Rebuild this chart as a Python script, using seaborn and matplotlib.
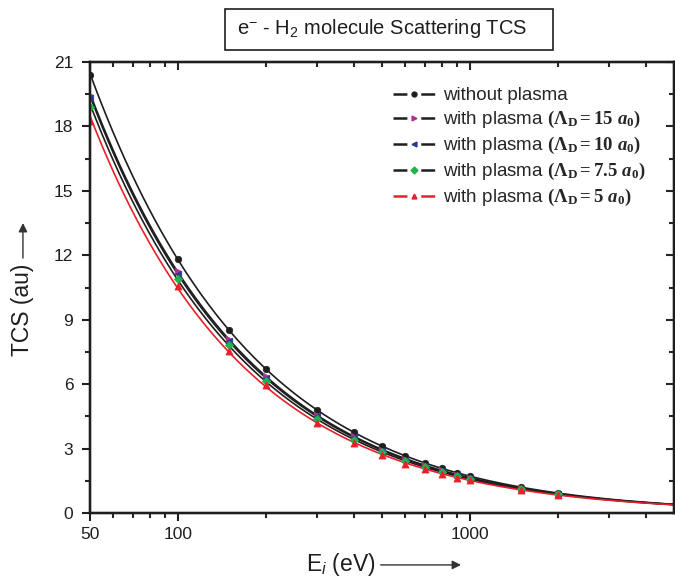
import numpy as np
import pandas as pd
import matplotlib
matplotlib.use("Agg")
import matplotlib.pyplot as plt
import seaborn as sns
from matplotlib.lines import Line2D
from matplotlib.patches import Rectangle
from matplotlib.ticker import FixedLocator, NullFormatter, FixedFormatter

# ---------------- data ----------------
energy = [50, 100, 150, 200, 300, 400, 500, 600, 700, 800, 900, 1000, 1500, 2000]
tcs_no_plasma = [20.40, 11.85, 8.52, 6.70, 4.80, 3.77, 3.10, 2.65, 2.33, 2.08, 1.88, 1.72, 1.20, 0.93]
tcs_ld15 = [19.45, 11.25, 8.10, 6.38, 4.56, 3.58, 2.95, 2.52, 2.22, 1.98, 1.79, 1.64, 1.15, 0.90]
tcs_ld10 = [19.32, 11.15, 8.02, 6.30, 4.50, 3.53, 2.91, 2.49, 2.19, 1.95, 1.77, 1.62, 1.14, 0.89]
tcs_ld75 = [18.92, 10.90, 7.82, 6.14, 4.38, 3.42, 2.84, 2.41, 2.13, 1.90, 1.72, 1.58, 1.11, 0.87]
tcs_ld5 = [18.25, 10.55, 7.55, 5.96, 4.20, 3.28, 2.72, 2.30, 2.05, 1.83, 1.65, 1.52, 1.07, 0.85]

series_labels = [
    "without plasma",
    r"with plasma $(\Lambda_{\mathrm{D}} = 15\ a_{0})$",
    r"with plasma $(\Lambda_{\mathrm{D}} = 10\ a_{0})$",
    r"with plasma $(\Lambda_{\mathrm{D}} = 7.5\ a_{0})$",
    r"with plasma $(\Lambda_{\mathrm{D}} = 5\ a_{0})$",
]
series_values = [tcs_no_plasma, tcs_ld15, tcs_ld10, tcs_ld75, tcs_ld5]

x_major_ticks = [50, 100, 1000]
x_major_labels = ["50", "100", "1000"]
x_minor_ticks = [60, 70, 80, 90, 200, 300, 400, 500, 600, 700, 800, 900, 2000, 3000, 4000]
y_major_ticks = [0, 3, 6, 9, 12, 15, 18, 21]
y_minor_ticks = [1.5, 4.5, 7.5, 10.5, 13.5, 16.5, 19.5]
x_range = (50, 5000)
y_range = (0, 21)

title_text = r"e$^{\mathsf{-}}$ - H$_{\mathsf{2}}$ molecule Scattering TCS"
xlabel_text = r"E$_{\mathcal{i}}$ (eV)"
ylabel_text = "TCS (au)"

# ---------------- styles ----------------
line_colors = ["#1e1e1e", "#1e1e1e", "#1e1e1e", "#1e1e1e", "#e8202a"]
marker_colors = ["#1e1e1e", "#b0308f", "#2b3990", "#22b24c", "#e8202a"]
marker_shapes = ["o", ">", "<", "D", "^"]
marker_sizes = [22, 22, 22, 18, 26]

sns.set_theme(style="ticks")
plt.rcParams.update({
    "font.family": ["Liberation Sans", "DejaVu Sans"],
    "mathtext.fontset": "custom",
    "mathtext.rm": "Liberation Serif:bold",
    "mathtext.bf": "Liberation Serif:bold",
    "mathtext.it": "Liberation Serif:italic:bold",
    "mathtext.sf": "Liberation Sans",
    "mathtext.cal": "Liberation Sans:italic",
    "lines.scale_dashes": False,
    "axes.linewidth": 1.6,
})

df = pd.DataFrame({
    "energy": np.tile(energy, len(series_labels)),
    "tcs": np.concatenate(series_values),
    "series": np.repeat(series_labels, len(energy)),
})

fig = plt.figure(figsize=(6.75, 5.8), dpi=100)
ax = fig.add_axes([0.1333, 0.1155, 0.8652, 0.7776])
ax.set_xscale("log")

# smooth fitted curves (log-log quadratic fit of each series)
curve_frames = []
xs = np.geomspace(x_range[0], x_range[1], 300)
for lab, vals in zip(series_labels, series_values):
    coef = np.polyfit(np.log(energy), np.log(vals), 2)
    curve_frames.append(pd.DataFrame({"energy": xs,
                                      "tcs": np.exp(np.polyval(coef, np.log(xs))),
                                      "series": lab}))
curves = pd.concat(curve_frames, ignore_index=True)

for lab, lc in zip(series_labels, line_colors):
    sns.lineplot(data=curves[curves.series == lab], x="energy", y="tcs",
                 color=lc, lw=1.2, ax=ax, legend=False, sort=False, estimator=None)

for lab, mc, ms, sz in zip(series_labels, marker_colors, marker_shapes, marker_sizes):
    sns.scatterplot(data=df[df.series == lab], x="energy", y="tcs", color=mc,
                    marker=ms, s=sz, edgecolor=mc, linewidth=0.5, ax=ax,
                    legend=False, zorder=5)

ax.set_xlim(*x_range)
ax.set_ylim(*y_range)
ax.xaxis.set_major_locator(FixedLocator(x_major_ticks))
ax.xaxis.set_major_formatter(FixedFormatter(x_major_labels))
ax.xaxis.set_minor_locator(FixedLocator(x_minor_ticks))
ax.xaxis.set_minor_formatter(NullFormatter())
ax.yaxis.set_major_locator(FixedLocator(y_major_ticks))
ax.yaxis.set_minor_locator(FixedLocator(y_minor_ticks))
ax.set_xlabel("")
ax.set_ylabel("")
ax.tick_params(which="major", direction="out", length=6, width=1.5, labelsize=12.5, pad=6, colors="#1e1e1e")
ax.tick_params(axis="x", which="major", pad=4)
ax.tick_params(which="minor", direction="out", length=3.5, width=1.5)
for sp in ax.spines.values():
    sp.set_visible(True)
    sp.set_linewidth(1.6)
    sp.set_color("#1e1e1e")

# mirrored inward ticks on top and right
axt = ax.twiny()
axt.set_xscale("log")
axt.set_xlim(*x_range)
axt.xaxis.set_major_locator(FixedLocator(x_major_ticks))
axt.xaxis.set_minor_locator(FixedLocator(x_minor_ticks))
axt.xaxis.set_major_formatter(NullFormatter())
axt.xaxis.set_minor_formatter(NullFormatter())
axt.tick_params(which="major", direction="in", length=6, width=1.5)
axt.tick_params(which="minor", direction="in", length=3.5, width=1.5)
axr = ax.twinx()
axr.set_ylim(*y_range)
axr.yaxis.set_major_locator(FixedLocator(y_major_ticks))
axr.yaxis.set_minor_locator(FixedLocator(y_minor_ticks))
axr.yaxis.set_major_formatter(NullFormatter())
axr.tick_params(which="major", direction="in", length=6, width=1.5)
axr.tick_params(which="minor", direction="in", length=3.5, width=1.5)
for a in (axt, axr):
    for sp in a.spines.values():
        sp.set_linewidth(1.6)
        sp.set_color("#1e1e1e")

# legend
handles = []
for lc, mc, ms in zip(line_colors, marker_colors, marker_shapes):
    handles.append(Line2D([0], [0], color=lc, lw=1.8, linestyle=(0, (10, 10)),
                          marker=ms, markersize=3.5, markerfacecolor=mc, markeredgecolor=mc))
ax.legend(handles, series_labels, loc="upper left", bbox_to_anchor=(0.519, 0.944),
          frameon=False, handlelength=2.24, handletextpad=0.4, labelspacing=0.26,
          borderpad=0, borderaxespad=0, fontsize=13.5, numpoints=1)

# title box
fig.add_artist(Rectangle((0.3333, 0.9138), 0.486, 0.0707, transform=fig.transFigure,
                         fill=False, lw=1.2, ec="#1e1e1e"))
fig.text(0.5667, 0.950, title_text, fontsize=14.5, ha="center", va="center", color="#1e1e1e")

# axis labels with arrows
fig.text(0.505, 0.026, xlabel_text, fontsize=16.5, ha="center", va="center", color="#1e1e1e")
fig.text(0.034, 0.4655, ylabel_text, fontsize=16.5, ha="center", va="center", rotation=90, color="#1e1e1e")
arrow = dict(arrowstyle="-|>", color="#333333", lw=1.0, mutation_scale=13, shrinkA=0, shrinkB=0)
fig.add_artist(matplotlib.patches.FancyArrowPatch((0.564, 0.026), (0.683, 0.026),
                                                  transform=fig.transFigure, **arrow))
fig.add_artist(matplotlib.patches.FancyArrowPatch((0.034, 0.555), (0.034, 0.6155),
                                                  transform=fig.transFigure, **arrow))

fig.savefig("out.png", dpi=100)
